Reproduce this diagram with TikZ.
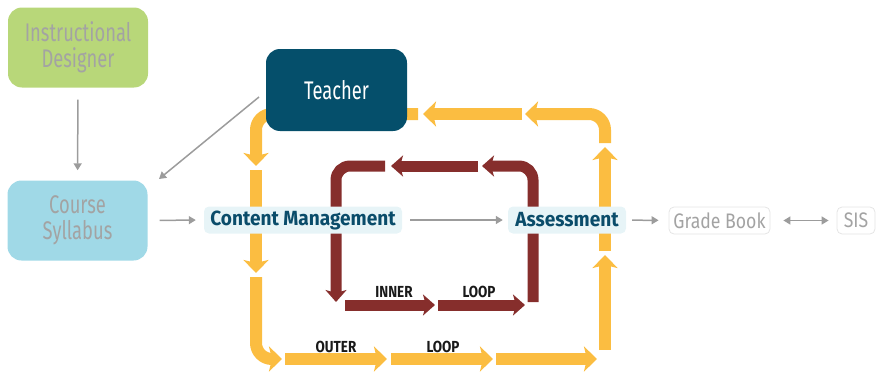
\documentclass[tikz,border=0pt]{standalone}
\usepackage{fontspec}
\usetikzlibrary{arrows.meta}
\newfontfamily\condfont{Fira Sans}[FakeStretch=0.72]
\newfontfamily\headfont{Fira Sans}[FakeStretch=0.84]
\newfontfamily\stagefont{Fira Sans}[FakeStretch=0.93]

\definecolor{designergreen}{HTML}{B8D779}
\definecolor{syllabusblue}{HTML}{A0D9E7}
\definecolor{teacherblue}{HTML}{054F6B}
\definecolor{loopyellow}{HTML}{FBBD41}
\definecolor{loopred}{HTML}{862E2C}
\definecolor{linegray}{HTML}{9C9C9C}
\definecolor{labelgray}{HTML}{A3A3A3}
\definecolor{stagefill}{HTML}{E7F4F7}
\definecolor{stagetext}{HTML}{0A4C6A}

\tikzset{
  rolebox/.style={rounded corners=14pt, minimum width=140pt, minimum height=80pt,
    align=center, text=labelgray, font=\condfont\fontsize{25.5}{26}\selectfont},
  stagebox/.style={rounded corners=5pt, fill=stagefill, minimum height=27pt,
    inner sep=0pt, text=stagetext, font=\stagefont\bfseries\fontsize{20.5}{22}\selectfont},
  sysbox/.style={rounded corners=5pt, draw=black!10, fill=white, minimum height=27pt,
    inner sep=0pt, line width=0.8pt, text=labelgray, font=\headfont\fontsize{21}{22}\selectfont},
  flow/.style={draw=linegray, line width=1.5pt, -{Triangle[length=7pt,width=8pt]}},
  outerloop/.style={draw=loopyellow, line width=12pt, rounded corners=16pt,
    -{Stealth[length=13pt,width=25pt,inset=3pt]}},
  innerloop/.style={draw=loopred, line width=11pt, rounded corners=14pt,
    -{Stealth[length=12pt,width=21pt,inset=3pt]}},
  looptag/.style={text=black!90, font=\headfont\bfseries\fontsize{16}{17}\selectfont}
}

\begin{document}
\begin{tikzpicture}[x=1pt, y=-1pt]
  \useasboundingbox (0,0) rectangle (876,372);

  % outer loop, counterclockwise on the page
  \draw[outerloop] (605,350) -- (605,255);
  \draw[outerloop] (605,251) -- (605,147);
  \draw[outerloop] (605,143) -- (605,114) -- (525,114);
  \draw[outerloop] (522,114) -- (423,114);
  \draw[outerloop] (418,114) -- (256,114) -- (256,166);
  \draw[outerloop] (256,170) -- (256,273);
  \draw[outerloop] (256,277) -- (256,359) -- (282,359);
  \draw[outerloop] (285,359) -- (387,359);
  \draw[outerloop] (391,359) -- (493,359);
  \draw[outerloop] (496,359) -- (597,359);

  % inner loop
  \draw[innerloop] (533,302) -- (533,166) -- (482,166);
  \draw[innerloop] (478,166) -- (391,166);
  \draw[innerloop] (385,166) -- (336,166) -- (336,302);
  \draw[innerloop] (345,305) -- (435,305);
  \draw[innerloop] (438,305) -- (525,305);

  \node[looptag] (innerA) at (394,292) {INNER};
  \node[looptag] (innerB) at (479,292) {LOOP};
  \node[looptag] (outerA) at (336,347) {OUTER};
  \node[looptag] (outerB) at (443,347) {LOOP};

  % people and course
  \node[rolebox, fill=designergreen] (designer) at (78,47.5) {Instructional\\Designer};
  \node[rolebox, fill=syllabusblue] (syllabus) at (77.5,220.5) {Course\\Syllabus};
  \node[rolebox, fill=teacherblue, text=white, minimum width=141pt, minimum height=82pt]
    (teacher) at (336.5,90) {Teacher};

  % stages
  \node[stagebox, minimum width=198pt] (content) at (303,220) {Content Management};
  \node[stagebox, minimum width=118pt] (assess) at (567,220) {Assessment};
  \node[sysbox, minimum width=101pt] (grades) at (719.5,220.5) {Grade Book};
  \node[sysbox, minimum width=38pt] (sis) at (856,220.5) {SIS};

  % gray connectors
  \coordinate (tch-out) at (259,97);
  \coordinate (syl-in) at (159,179);
  \draw[flow, shorten <=12pt, shorten >=10pt] (designer) -- (syllabus);
  \draw[flow] (tch-out) -- (syl-in);
  \draw[flow, shorten <=12pt, shorten >=8pt] (syllabus.east) -- (content.west);
  \draw[flow, shorten <=8pt, shorten >=5pt] (content) -- (assess);
  \draw[flow, shorten <=6pt, shorten >=10pt] (assess) -- (grades);
  \draw[flow, {Triangle[length=7pt,width=8pt]}-{Triangle[length=7pt,width=8pt]},
    shorten <=13pt, shorten >=8pt] (grades) -- (sis);
\end{tikzpicture}
\end{document}
